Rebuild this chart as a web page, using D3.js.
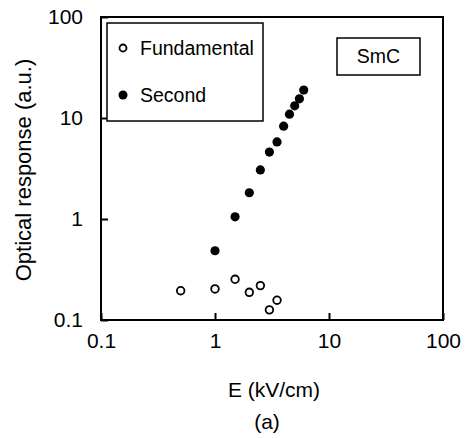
<!DOCTYPE html>
<html>
<head>
<meta charset="utf-8">
<style>
body { margin: 0; background: #fff; }
text { font-family: "Liberation Sans", Arial, sans-serif; fill: #000; }
</style>
</head>
<body>
<svg width="469" height="438"></svg>
<script src="https://cdn.jsdelivr.net/npm/d3@7"></script>
<script>

// field values (kV/cm) and optical response (a.u.)
var fundE   = [0.5, 1.0, 1.5, 2.0, 2.5, 3.0, 3.5];
var fundVal = [0.195, 0.203, 0.253, 0.188, 0.219, 0.126, 0.157];
var secE    = [1.0, 1.5, 2.0, 2.5, 3.0, 3.5, 4.0, 4.5, 5.0, 5.5, 6.0];
var secVal  = [0.485, 1.05, 1.82, 3.06, 4.6, 5.8, 8.3, 10.9, 13.2, 15.5, 18.9];
var tickVals = [0.1, 1, 10, 100];
var tickText = ["0.1", "1", "10", "100"];

var svg = d3.select("svg");
var plotL = 101, plotR = 443, plotT = 17, plotB = 320;

var x = d3.scaleLog().domain([0.1, 100]).range([plotL, plotR]);
var y = d3.scaleLog().domain([0.1, 100]).range([plotB, plotT]);

// axes with small inward ticks
svg.append("g")
    .attr("transform", "translate(0," + plotB + ")")
    .call(d3.axisBottom(x).tickValues(tickVals)
      .tickFormat(function(d, i) { return tickText[i]; })
      .tickSizeInner(-7).tickSizeOuter(0).tickPadding(13));

svg.append("g")
    .attr("transform", "translate(" + plotL + ",0)")
    .call(d3.axisLeft(y).tickValues(tickVals)
      .tickFormat(function(d, i) { return tickText[i]; })
      .tickSizeInner(-7).tickSizeOuter(0).tickPadding(18));

svg.selectAll(".domain").remove();
svg.selectAll(".tick line").attr("stroke", "#000").attr("stroke-width", 2);
svg.selectAll(".tick text")
    .style("font-family", "'Liberation Sans', Arial, sans-serif")
    .style("font-size", "21px").attr("fill", "#000");

// frame
svg.append("rect")
    .attr("x", plotL).attr("y", plotT)
    .attr("width", plotR - plotL).attr("height", plotB - plotT)
    .attr("fill", "none").attr("stroke", "#000").attr("stroke-width", 2);

// data
svg.append("g").selectAll("circle")
    .data(fundE)
  .enter().append("circle")
    .attr("cx", function(d) { return x(d); })
    .attr("cy", function(d, i) { return y(fundVal[i]); })
    .attr("r", 3.8)
    .attr("fill", "#fff").attr("stroke", "#000").attr("stroke-width", 1.8);

svg.append("g").selectAll("circle")
    .data(secE)
  .enter().append("circle")
    .attr("cx", function(d) { return x(d); })
    .attr("cy", function(d, i) { return y(secVal[i]); })
    .attr("r", 4.6)
    .attr("fill", "#000");

// legend
svg.append("rect")
    .attr("x", 107).attr("y", 23).attr("width", 156).attr("height", 98)
    .attr("fill", "#fff").attr("stroke", "#000").attr("stroke-width", 1.5);
svg.append("circle").attr("cx", 123).attr("cy", 48).attr("r", 3.5)
    .attr("fill", "#fff").attr("stroke", "#000").attr("stroke-width", 1.8);
svg.append("circle").attr("cx", 123).attr("cy", 95).attr("r", 4.5).attr("fill", "#000");
svg.append("text").attr("x", 140).attr("y", 55).style("font-size", "19.5px").text("Fundamental");
svg.append("text").attr("x", 140).attr("y", 102).style("font-size", "19.5px").text("Second");

// SmC label
svg.append("rect")
    .attr("x", 337).attr("y", 38).attr("width", 83).attr("height", 37)
    .attr("fill", "#fff").attr("stroke", "#000").attr("stroke-width", 1.5);
svg.append("text").attr("x", 378.5).attr("y", 63).attr("text-anchor", "middle")
    .style("font-size", "19.5px").text("SmC");

// axis titles
svg.append("text").attr("x", 274).attr("y", 397).attr("text-anchor", "middle")
    .style("font-size", "21px").text("E (kV/cm)");
svg.append("text").attr("x", 267).attr("y", 429).attr("text-anchor", "middle")
    .style("font-size", "21px").text("(a)");
svg.append("text")
    .attr("transform", "translate(31,170) rotate(-90)")
    .attr("text-anchor", "middle")
    .style("font-size", "22px").text("Optical response (a.u.)");

</script>
</body>
</html>
